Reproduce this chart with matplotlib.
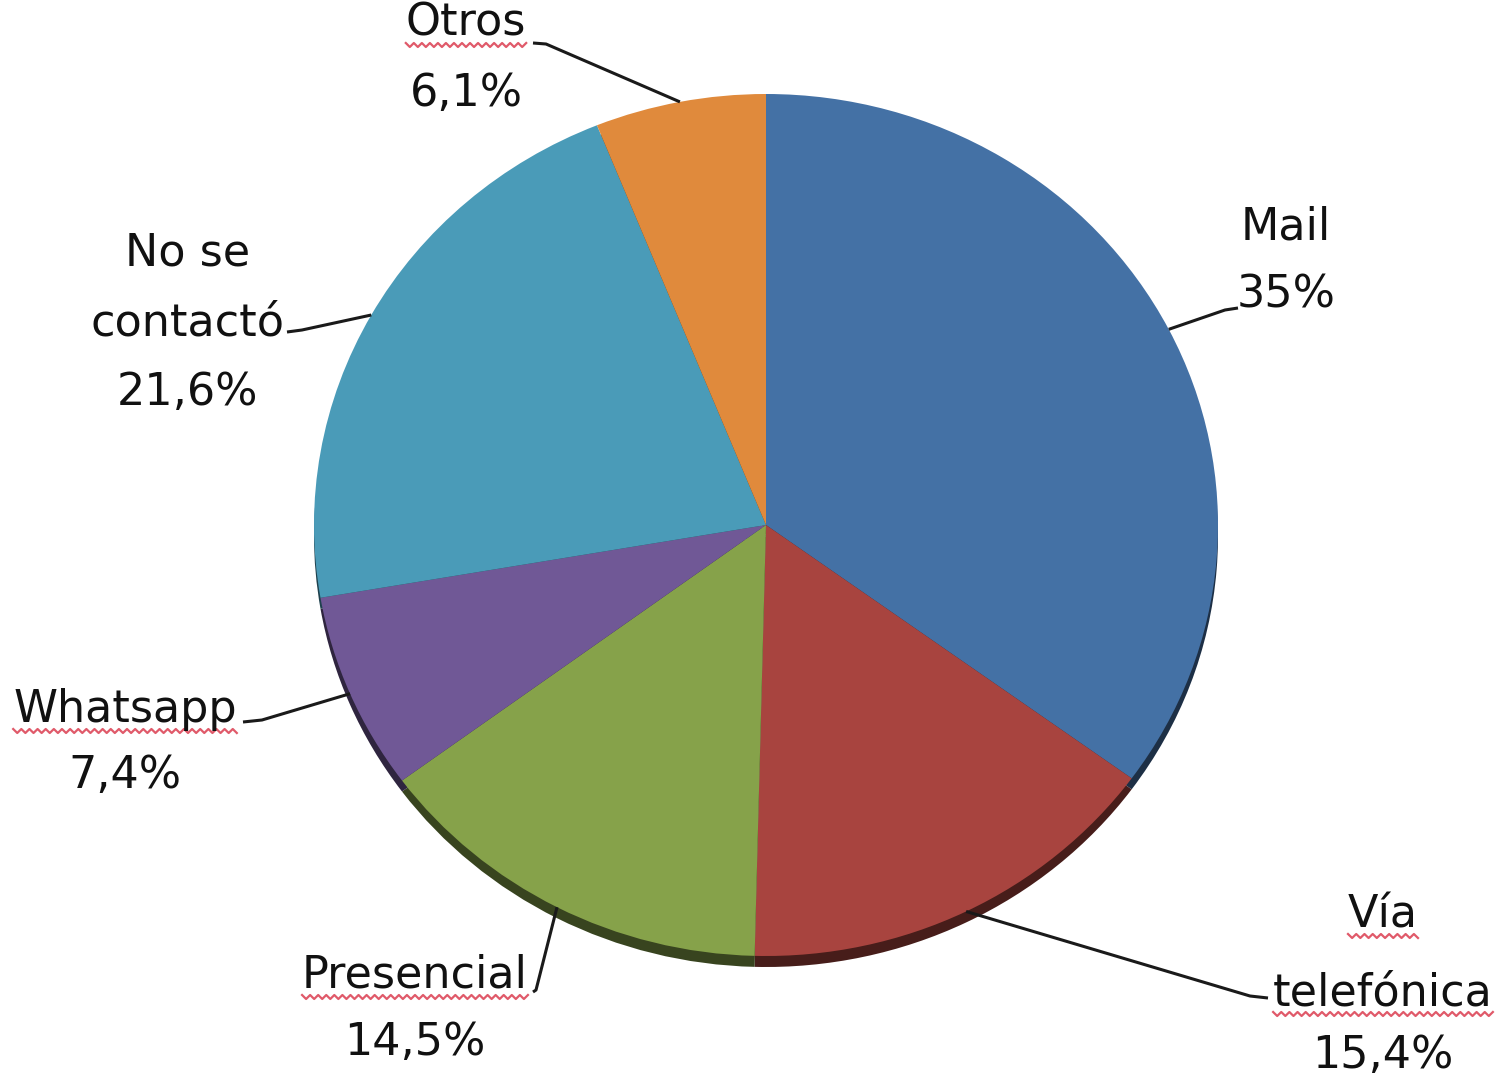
import numpy as np
import matplotlib
matplotlib.use("Agg")
import matplotlib.pyplot as plt
import matplotlib.colors as mcolors

# ---- data ----
categories = ["Mail", "Vía telefónica", "Presencial", "Whatsapp", "No se contactó", "Otros"]
values = [35.0, 15.4, 14.5, 7.4, 21.6, 6.1]
label_lines = [["Mail", "35%"], ["Vía", "telefónica", "15,4%"], ["Presencial", "14,5%"],
               ["Whatsapp", "7,4%"], ["No se", "contactó", "21,6%"], ["Otros", "6,1%"]]
underlined = {"Otros", "Vía", "telefónica", "Presencial", "Whatsapp"}
colors = ["#4471A5", "#A8443F", "#86A24A", "#705896", "#4A9BB8", "#E08A3C"]

# ---- layout (pixel geometry of the reference) ----
W, H = 1511, 1086
cx, cy, rx, ry = 766, 525, 452, 431

def X(px):
    return (px - cx) / rx

def Y(py):
    return (cy - py) / ry

fig = plt.figure(figsize=(W / 100, H / 100), dpi=100)
ax = fig.add_axes([0, 0, 1, 1])

# 3D-like rim (darker copy, shifted down)
dark = [tuple(np.array(mcolors.to_rgb(c)) * 0.42) for c in colors]
ax.pie(values, colors=dark, startangle=90, counterclock=False, radius=1.0,
       center=(0, -11 / ry), wedgeprops=dict(linewidth=0))
wedges, _ = ax.pie(values, colors=colors, startangle=90, counterclock=False, radius=1.0,
                   center=(0, 0), wedgeprops=dict(linewidth=0))

ax.set_aspect("auto")
ax.set_xlim(X(0), X(W))
ax.set_ylim(Y(H), Y(0))
ax.axis("off")

# label placement: text line centers x, baselines y, leader polyline end near text
label_x = [1286, 1383, 415, 125, 188, 466]
label_base = [[240, 308], [927, 1005, 1068], [988, 1055], [722, 788], [265, 335, 405], [36, 106]]
leader_text_pts = [[(1238, 308), (1225, 310)],
                   [(1268, 998), (1250, 996)],
                   [(533, 992), (536, 990)],
                   [(243, 722), (262, 720)],
                   [(287, 332), (302, 330)],
                   [(533, 43), (546, 44)]]

fs = 32
texts = []
for w, lines, lx, bases, pts in zip(wedges, label_lines, label_x, label_base, leader_text_pts):
    mid = np.deg2rad((w.theta1 + w.theta2) / 2)
    ex, ey = np.cos(mid), np.sin(mid)
    xs = [X(p[0]) for p in pts] + [ex]
    ys = [Y(p[1]) for p in pts] + [ey]
    ax.plot(xs, ys, color="#1a1a1a", lw=2.2, solid_capstyle="butt")
    for line, b in zip(lines, bases):
        t = ax.text(X(lx), Y(b), line, ha="center", va="baseline", fontsize=fs,
                    color="#111111", family="DejaVu Sans")
        texts.append((t, line, b))

# red wavy spell-check underlines
fig.canvas.draw()
r = fig.canvas.get_renderer()
for t, line, b in texts:
    if line in underlined:
        bb = t.get_window_extent(renderer=r)
        x0, x1 = bb.x0, bb.x1
        n = int((x1 - x0) / 4) + 1
        zx = np.linspace(x0, x1, n)
        zy = np.array([(b + 9) + (2 if i % 2 else -2) for i in range(n)])
        ax.plot([X(v) for v in zx], [Y(v) for v in zy], color="#E05A6A", lw=1.6)

fig.savefig("out.png", dpi=100, facecolor="white")
